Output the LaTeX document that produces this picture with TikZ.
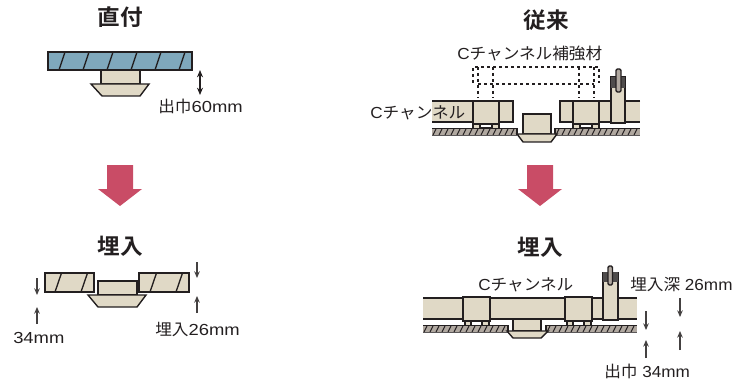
\documentclass[tikz,border=0pt]{standalone}
\usepackage{fontspec}
\usetikzlibrary{arrows.meta}
\setmainfont[FakeStretch=1.07]{Liberation Sans}
\newfontfamily\wideroman[FakeStretch=1.15]{Liberation Sans}
\newfontfamily\cjk[FakeStretch=1.04]{Noto Sans CJK JP}
\newfontfamily\cjkb[FakeStretch=1.03]{Noto Sans CJK JP Bold}
\definecolor{panelblue}{HTML}{7FA8BC}
\definecolor{beige}{HTML}{E0D9C6}
\definecolor{inkdark}{HTML}{231F20}
\definecolor{rosered}{HTML}{C94C66}
\definecolor{boardgray}{HTML}{B0A8A0}
\begin{document}
\begin{tikzpicture}
    [x=0.75pt,y=-0.75pt,
    part/.style={draw=inkdark,fill=beige,line width=1.05pt},
    blue part/.style={part,fill=panelblue},
    slash/.style={draw=inkdark,line width=1pt},
    hidden/.style={draw=inkdark,dash pattern=on 2.6pt off 1.9pt,line width=0.85pt},
    beam/.style={draw=inkdark,line width=1.05pt},
    board/.style={fill=boardgray,draw=none},
    boardline/.style={draw=inkdark!75,line width=1.4pt},
    hatch/.style={draw=inkdark,line width=0.8pt},
    dim/.style={{Stealth[length=5.5pt,width=4.5pt]}-{Stealth[length=5.5pt,width=4.5pt]},draw=inkdark,line width=0.9pt},
    single/.style={-{Stealth[length=5pt,width=4.2pt]},draw=inkdark!85,line width=0.8pt},
    bigarrow/.style={fill=rosered,draw=none},
    title/.style={font=\fontsize{16.5}{18}\selectfont\cjkb,text=inkdark,inner sep=0pt},
    caption/.style={font=\fontsize{12}{14}\selectfont,text=inkdark,inner sep=0pt}]

    \useasboundingbox (0,0) rectangle (745,381);

    % titles
    \node[title] (title direct)  at (120,17)  {直付};
    \node[title] (title current) at (546,20)  {従来};
    \node[title] (title left)    at (120,246) {埋入};
    \node[title] (title right)   at (540,247) {埋入};

    % big arrows
    \foreach \x in {120,540}
        \fill[bigarrow] (\x-13,165) -- (\x+13,165) -- (\x+13,189) -- (\x+22,189)
            -- (\x,206) -- (\x-22,189) -- (\x-13,189) -- cycle;

    % direct mount
    \draw[blue part] (48,52) rectangle (192,70);
    \foreach \x in {59,83,107,131,155,179}
        \draw[slash] (\x,70) -- (\x+6,52);
    \draw[part] (101,70) rectangle (140,84);
    \draw[part] (91,84) -- (149,84) -- (140,96) -- (102,96) -- cycle;
    \coordinate (gap top) at (200,70);
    \coordinate (gap bottom) at (200,95);
    \draw[dim] (gap top) -- (gap bottom);
    \node[caption,anchor=west] (gap label) at (158,106) {{\cjk 出巾}{\wideroman 60mm}};

    % embedded, left
    \draw[part] (45,273) rectangle (94,292);
    \draw[part] (139,273) rectangle (189,292);
    \foreach \x in {55,81,150,176}
        \draw[slash] (\x,292) -- (\x+6.5,273);
    \draw[part] (98,281) rectangle (137,295);
    \draw[part] (88,295) -- (146,295) -- (137,307) -- (98,307) -- cycle;
    \draw[single] (37,278) -- (37,295);
    \draw[single] (37,324) -- (37,307);
    \draw[single] (197,262) -- (197,278);
    \draw[single] (197,313) -- (197,296);
    \node[caption,anchor=west] (drop label)  at (13,338)  {\wideroman 34mm};
    \node[caption,anchor=west] (depth label) at (155,329) {{\cjk 埋入}{\wideroman 26mm}};

    % current mount
    \node[caption,anchor=west] (brace label) at (457,53) {C{\cjk チャンネル補強材}};
    \draw[hidden] (473,83) -- (473,67) -- (599,67) -- (599,83);
    \draw[hidden] (478,84) -- (594,84);
    \foreach \x in {478,493,579,594}
        \draw[hidden] (\x,67) -- (\x,98);
    \fill[beige] (432,101) rectangle (513,122);
    \draw[beam] (432,101) -- (513,101) -- (513,122) -- (432,122);
    \fill[beige] (560,101) rectangle (640,122);
    \draw[beam] (640,101) -- (560,101) -- (560,122) -- (640,122);
    % board
    \fill[board] (432,129) rectangle (517,135);
    \fill[board] (555,129) rectangle (640,135);
    \foreach \x in {433,439,...,513,556,562,...,636}
        \draw[hatch] (\x,135) -- (\x+3,129);
    \draw[hatch] (432,128.5) -- (517,128.5) -- (517,135);
    \draw[hatch] (555,135) -- (555,128.5) -- (640,128.5);
    \draw[boardline] (432,135.5) -- (517,135.5);
    \draw[boardline] (555,135.5) -- (640,135.5);
    \foreach \x in {473,573} {
        \draw[part,fill=white,line width=0.7pt] (\x+6,124) rectangle (\x+19,127);
        \draw[part,line width=0.9pt] (\x,124) rectangle (\x+7,128.5);
        \draw[part,line width=0.9pt] (\x+19,124) rectangle (\x+26,128.5);
        \draw[part] (\x,101) rectangle (\x+26,124);
    }
    \draw[part] (523,114) rectangle (551,134);
    \draw[part] (517,134) -- (557,134) -- (551,142) -- (523,142) -- cycle;
    \draw[part] (611,123) -- (611,77) -- (625,77) -- (625,123) -- cycle;
    \fill[inkdark!80] (611,77) rectangle (616,88);
    \fill[inkdark!80] (621,77) rectangle (625,88);
    \draw[part,fill=boardgray,rounded corners=1pt] (616,69) rectangle (621,92);
    \node[caption,anchor=west] (channel label) at (370,113) {C{\cjk チャンネル}};

    % embedded, right
    \fill[beige] (423,298) rectangle (637,319);
    \draw[beam] (423,298) -- (637,298);
    \draw[beam] (423,319) -- (637,319);
    % board
    \fill[board] (423,326) rectangle (508,332);
    \fill[board] (546,326) rectangle (637,332);
    \foreach \x in {424,430,...,504,547,553,...,633}
        \draw[hatch] (\x,332) -- (\x+3,326);
    \draw[hatch] (423,325.5) -- (508,325.5) -- (508,332);
    \draw[hatch] (546,332) -- (546,325.5) -- (637,325.5);
    \draw[boardline] (423,332.5) -- (508,332.5);
    \draw[boardline] (546,332.5) -- (637,332.5);
    \foreach \x in {463,565} {
        \draw[part,line width=0.9pt] (\x+2,321) rectangle (\x+8,325.5);
        \draw[part,line width=0.9pt] (\x+19,321) rectangle (\x+26,325.5);
        \draw[part] (\x,297) rectangle (\x+27,321);
    }
    \draw[part] (513,319) rectangle (541,331);
    \draw[part] (507,331) -- (548,331) -- (541,338) -- (513,338) -- cycle;
    \draw[part] (603,320) -- (603,273) -- (618,273) -- (618,320) -- cycle;
    \fill[inkdark!80] (603,272) rectangle (608,282);
    \fill[inkdark!80] (612,272) rectangle (618,282);
    \draw[part,fill=boardgray,rounded corners=1pt] (608,266) rectangle (612.5,285);
    \node[caption,anchor=west] (beam label) at (478,285) {C{\cjk チャンネル}};
    \node[caption,anchor=west] (deep label) at (630,285) {{\cjk 埋入深} 26mm};
    \node[caption,anchor=west] (out label)  at (604,371) {{\cjk 出巾} 34mm};
    \draw[single] (646,311) -- (646,330);
    \draw[single] (646,358) -- (646,340);
    \draw[single] (680,298) -- (680,317);
    \draw[single] (680,350) -- (680,331);
\end{tikzpicture}
\end{document}
